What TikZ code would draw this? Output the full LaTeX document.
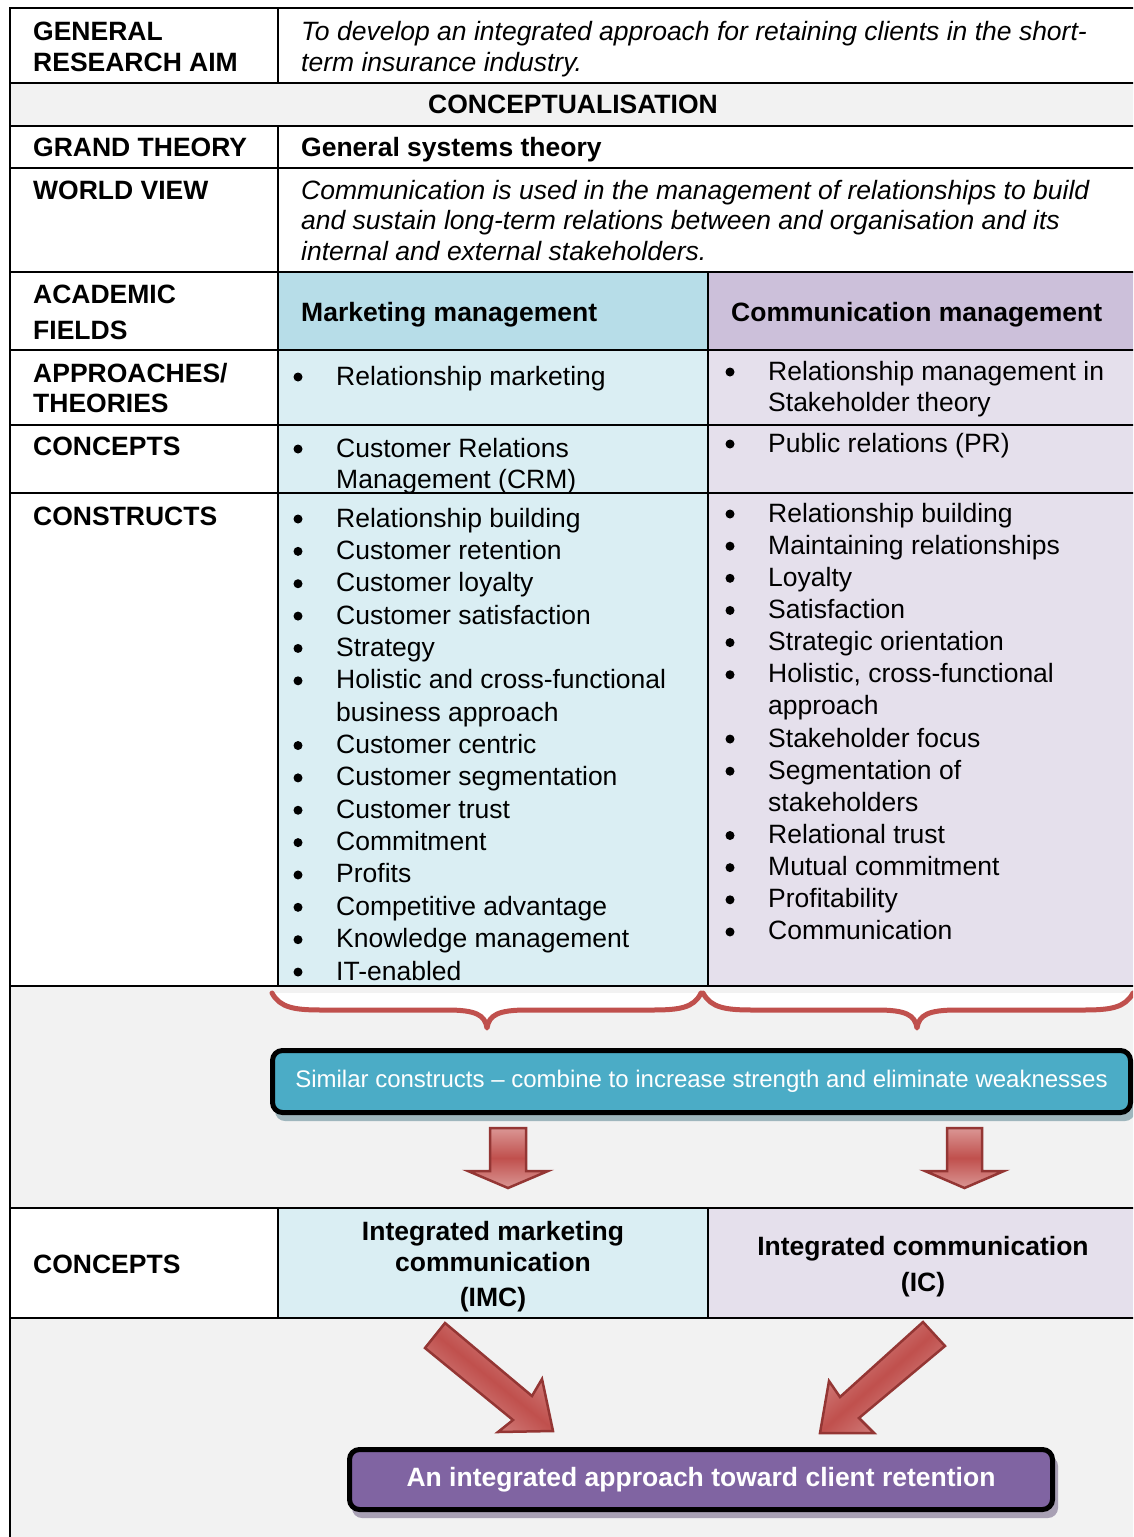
\documentclass[tikz,border=0pt]{standalone}
\usepackage{fontspec}
\setmainfont{Liberation Sans}
\definecolor{mhead}{HTML}{B7DDE8}
\definecolor{mbody}{HTML}{DAEEF3}
\definecolor{chead}{HTML}{CCC0DA}
\definecolor{cbody}{HTML}{E5E0EC}
\definecolor{greyband}{HTML}{F2F2F2}
\definecolor{bracered}{HTML}{C0504D}
\definecolor{arrowdark}{HTML}{943634}
\definecolor{arrowlight}{HTML}{DA9694}
\definecolor{aqua}{HTML}{4BACC6}
\definecolor{violet}{HTML}{8064A2}
\definecolor{aquashadow}{HTML}{9FB6BD}
\definecolor{violetshadow}{HTML}{A8A0B4}
\tikzset{
  tx/.style={inner sep=0pt, anchor=base west, font=\fontsize{26.5}{32}\selectfont},
  hd/.style={tx, font=\fontsize{26.5}{32}\selectfont\bfseries},
  itx/.style={tx, font=\fontsize{26.5}{32}\selectfont\itshape},
  gridline/.style={line width=2.2pt, black},
  brace/.style={draw=bracered, line width=5pt, fill=white, line join=round, line cap=round},
  blockarrow/.style={draw=arrowdark, line width=2.5pt, line join=miter,
    top color=arrowlight, bottom color=arrowlight, middle color=bracered},
  banner/.style={draw=black, line width=5pt, rounded corners=10pt, inner sep=0pt, text=white},
}
\begin{document}
\begin{tikzpicture}[x=1pt,y=-1pt]
\useasboundingbox (0,0) rectangle (1133,1537);
\clip (0,0) rectangle (1133,1537);
\fill[white] (0,0) rectangle (1133,1537);
% fills
\fill[greyband] (10,83) rectangle (1140,126);
\fill[mhead] (278,272) rectangle (708,350);
\fill[chead] (708,272) rectangle (1140,350);
\fill[mbody] (278,350) rectangle (708,986);
\fill[cbody] (708,350) rectangle (1140,986);
\fill[greyband] (10,986) rectangle (1140,1208);
\fill[mbody] (278,1208) rectangle (708,1318);
\fill[cbody] (708,1208) rectangle (1140,1318);
\fill[greyband] (10,1318) rectangle (1140,1540);
% grid lines
\foreach \yy in {8,83,126,168,272,350,425,493,986,1208,1318}
  \draw[gridline] (9,\yy) -- (1140,\yy);
\draw[gridline] (10,7) -- (10,1540);
\draw[gridline] (278,8) -- (278,83);
\draw[gridline] (278,126) -- (278,986);
\draw[gridline] (278,1208) -- (278,1318);
\draw[gridline] (708,272) -- (708,986);
\draw[gridline] (708,1208) -- (708,1318);
% left labels
\node[hd] (gra1) at (33,40) {GENERAL};
\node[hd] (gra2) at (33,71) {RESEARCH AIM};
\node[hd, anchor=base] (concept) at (573,113) {CONCEPTUALISATION};
\node[hd] (grand) at (33,156) {GRAND THEORY};
\node[hd] (world) at (33,199) {WORLD VIEW};
\node[hd] (acad1) at (33,303) {ACADEMIC};
\node[hd] (acad2) at (33,339) {FIELDS};
\node[hd] (appr1) at (33,382) {APPROACHES/};
\node[hd] (appr2) at (33,412) {THEORIES};
\node[hd] (conc) at (33,455) {CONCEPTS};
\node[hd] (constr) at (33,525) {CONSTRUCTS};
\node[hd] (conc2) at (33,1273) {CONCEPTS};
% right texts
\node[itx] (aim1) at (301,40) {To develop an integrated approach for retaining clients in the short-};
\node[itx] (aim2) at (301,71) {term insurance industry.};
\node[hd] (gst) at (301,156) {General systems theory};
\node[itx] (wv1) at (301,199) {Communication is used in the management of relationships to build};
\node[itx] (wv2) at (301,229) {and sustain long-term relations between and organisation and its};
\node[itx] (wv3) at (301,260) {internal and external stakeholders.};
\node[hd] (mm) at (301,321) {Marketing management};
\node[hd] (cm) at (731,321) {Communication management};
% approaches
\fill (298,377) circle (4.5pt);
\node[tx] (rm) at (336,385) {Relationship marketing};
\fill (730,372) circle (4.5pt);
\node[tx] (rmi1) at (768,380) {Relationship management in};
\node[tx] (rmi2) at (768,411) {Stakeholder theory};
% concepts
\fill (298,449) circle (4.5pt);
\node[tx] (crm1) at (336,457) {Customer Relations};
\node[tx] (crm2) at (336,488) {Management (CRM)};
\fill (730,444) circle (4.5pt);
\node[tx] (pr) at (768,452) {Public relations (PR)};
% constructs
\foreach \t/\b [count=\i] in {Relationship building/1, Customer retention/1, Customer loyalty/1,
  Customer satisfaction/1, Strategy/1, Holistic and cross-functional/1, business approach/0,
  Customer centric/1, Customer segmentation/1, Customer trust/1, Commitment/1, Profits/1,
  Competitive advantage/1, Knowledge management/1, IT-enabled/1} {
  \node[tx] (ml\i) at (336,{527+(\i-1)*32.36}) {\t};
  \ifnum\b=1 \fill (298,{519+(\i-1)*32.36}) circle (4.5pt); \fi
}
\foreach \t/\b [count=\i] in {Relationship building/1, Maintaining relationships/1, Loyalty/1,
  Satisfaction/1, Strategic orientation/1, {Holistic, cross-functional}/1, approach/0,
  Stakeholder focus/1, Segmentation of/1, stakeholders/0, Relational trust/1,
  Mutual commitment/1, Profitability/1, Communication/1} {
  \node[tx] (cl\i) at (768,{522+(\i-1)*32.15}) {\t};
  \ifnum\b=1 \fill (730,{514+(\i-1)*32.15}) circle (4.5pt); \fi
}
% braces
\path[brace] (272,993) .. controls (280,1008) and (295,1010) .. (322,1010) -- (447,1010)
  .. controls (476,1010) and (485,1015) .. (487,1028)
  .. controls (489,1015) and (498,1010) .. (527,1010) -- (652,1010)
  .. controls (679,1010) and (694,1008) .. (701,993);
\path[brace] (703,993) .. controls (711,1008) and (726,1010) .. (753,1010) -- (877,1010)
  .. controls (906,1010) and (915,1015) .. (917,1028)
  .. controls (919,1015) and (928,1010) .. (957,1010) -- (1083,1010)
  .. controls (1110,1010) and (1125,1008) .. (1133,993);
% blue banner
\fill[aquashadow, rounded corners=10pt] (275,1058) rectangle (1135,1121);
\node[banner, fill=aqua, minimum width=858pt, minimum height=62pt,
  font=\fontsize{24}{28}\selectfont] (similar) at (701.5,1081.5)
  {Similar constructs -- combine to increase strength and eliminate weaknesses};
% down arrows
\path[blockarrow]
  (490,1128) -- (526,1128) -- (526,1171) -- (548,1171) -- (508,1188) -- (468,1171) -- (490,1171) -- cycle;
\path[blockarrow]
  (947,1128) -- (982,1128) -- (982,1171) -- (1004,1171) -- (964.5,1188) -- (925,1171) -- (947,1171) -- cycle;
% lower concepts
\node[hd, anchor=base] (imc1) at (493,1240) {Integrated marketing};
\node[hd, anchor=base] (imc2) at (493,1271) {communication};
\node[hd, anchor=base] (imc3) at (493,1306) {(IMC)};
\node[hd, anchor=base] (ic1) at (923,1255) {Integrated communication};
\node[hd, anchor=base] (ic2) at (923,1291) {(IC)};
% diagonal arrows
\path[blockarrow, shading angle=-39]
  (445,1323) -- (532,1396) -- (542,1379) -- (553,1431) -- (498,1432) -- (513,1420) -- (425,1348) -- cycle;
\path[blockarrow, shading angle=41]
  (923,1322) -- (945,1346) -- (859,1418) -- (874,1433) -- (820,1433) -- (829,1381) -- (840,1397) -- cycle;
% purple banner
\fill[violetshadow, rounded corners=10pt] (352,1456) rectangle (1058,1518);
\node[banner, fill=violet, minimum width=703pt, minimum height=60pt,
  font=\fontsize{26.5}{32}\selectfont\bfseries] (goal) at (701,1479.5)
  {An integrated approach toward client retention};
\end{tikzpicture}
\end{document}
